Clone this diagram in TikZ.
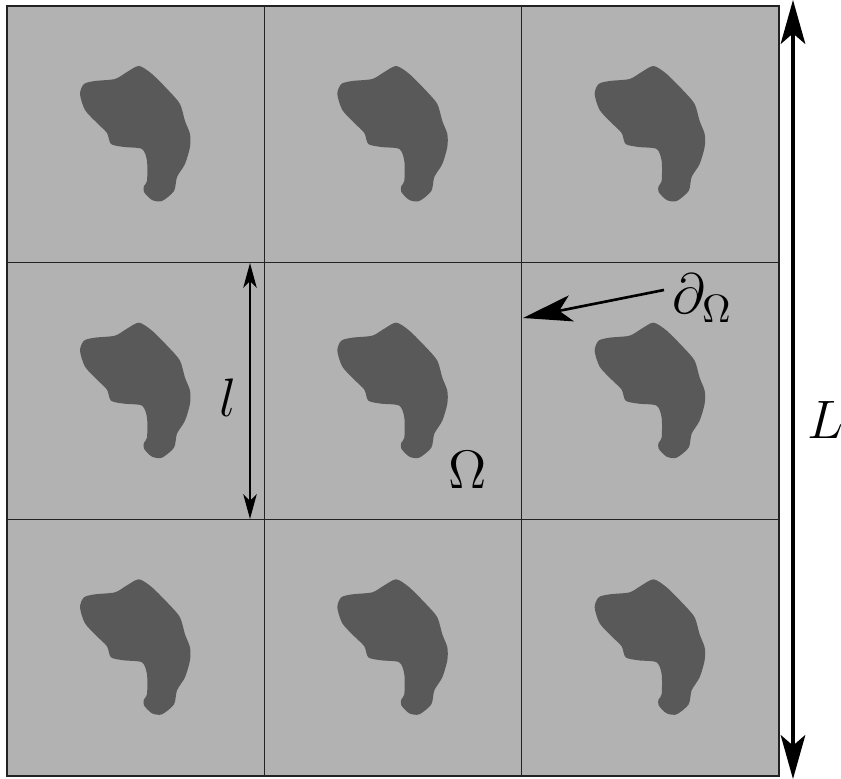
\documentclass[tikz,border=0pt]{standalone}
\usepackage{tikz}
\usetikzlibrary{arrows.meta}
\definecolor{cellgray}{RGB}{178, 178, 178}
\definecolor{blobgray}{RGB}{89, 89, 89}
\definecolor{gridline}{RGB}{35, 35, 35}

\tikzset{
  cell/.style={fill=cellgray, draw=gridline, line width=0.45pt},
  blob/.style={fill=blobgray, draw=none},
  biglabel/.style={font=\Large, scale=1.07, transform shape, inner sep=0pt},
}

\begin{document}
\begin{tikzpicture}[x=0.01cm, y=-0.01cm]
  \useasboundingbox (0,0) rectangle (841,779);

  % cells and inclusions
  \foreach \i in {0,1,2} {
    \foreach \j in {0,1,2} {
      \begin{scope}[shift={(7+257.33*\i, 6+256.67*\j)}]
        \draw[cell] (0,0) rectangle (257.33,256.67);
        \fill[blob] plot[smooth cycle, tension=0.45] coordinates {
          (132,60) (145,68) (162,85) (173,98) (178,115) (183,128)
          (183,141) (178,158) (170,171) (167,185) (155,195) (145,194)
          (137,186) (137,180) (140,175) (140,155) (135,143) (117,141)
          (104,138) (100,127) (90,117) (78,104) (73,88) (77,78)
          (88,75) (108,73) (120,66)};
      \end{scope}
    }
  }

  % labels
  \node[biglabel] (omega) at (468,470) {$\Omega$};
  \node[biglabel] (small) at (228,398) {$l$};
  \node[biglabel] (large) at (826,420) {$L$};
  \node[biglabel, scale=1.05, anchor=west] (bound) at (672,298) {$\partial_\Omega$};

  % arrows
  \coordinate (ltop) at (250,263);
  \coordinate (lbot) at (250,519);
  \draw[line width=0.6pt, {Stealth[length=7pt, width=3.8pt, inset=1.8pt]}-{Stealth[length=7pt, width=3.8pt, inset=1.8pt]}]
    (ltop) -- (lbot);

  \coordinate (Ltop) at (793,0);
  \coordinate (Lbot) at (793,779);
  \draw[line width=0.9pt, {Stealth[length=12.5pt, width=7pt, inset=3pt]}-{Stealth[length=12.5pt, width=7pt, inset=3pt]}]
    (Ltop) -- (Lbot);

  \coordinate (bstart) at (664,290);
  \coordinate (btip) at (523,318);
  \draw[line width=0.75pt, -{Stealth[length=14pt, width=7.5pt, inset=3.5pt]}]
    (bstart) -- (btip);

\end{tikzpicture}
\end{document}
